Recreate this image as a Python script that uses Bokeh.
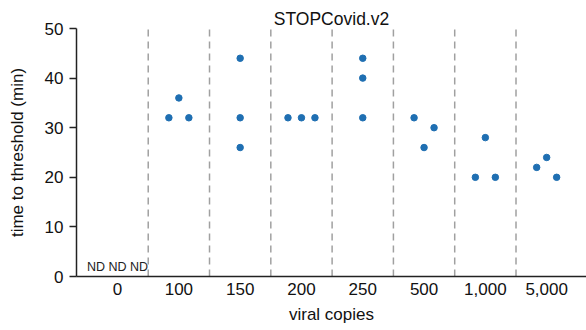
from bokeh.plotting import figure
from bokeh.models import Range1d, FixedTicker
from bokeh.core.properties import value
from bokeh.embed import file_html
from bokeh.resources import INLINE

# ---- data ----
categories = ["0", "100", "150", "200", "250", "500", "1,000", "5,000"]
values = {
    "0": [None, None, None],          # not detected
    "100": [32, 36, 32],
    "150": [44, 32, 26],
    "200": [32, 32, 32],
    "250": [44, 40, 32],
    "500": [32, 26, 30],
    "1,000": [20, 28, 20],
    "5,000": [22, 24, 20],
}
nd_label = "ND"
title_text = "STOPCovid.v2"
x_label = "viral copies"
y_label = "time to threshold (min)"
y_ticks = [0, 10, 20, 30, 40, 50]

FONT = "Liberation Sans"

p = figure(width=586, height=330, output_backend="svg", toolbar_location=None,
           x_range=Range1d(-0.67, 7.65), y_range=Range1d(0, 50),
           min_border_left=76, min_border_right=0, min_border_top=28, min_border_bottom=54)
p.grid.visible = False
p.outline_line_color = None

p.title.text = title_text
p.title.align = "center"
p.title.text_font = FONT
p.title.text_font_size = "17.5px"
p.title.text_font_style = "normal"
p.title.text_color = "#111111"
p.title.standoff = 0
p.title.text_line_height = 1.0

# separators between categories
sep_x = [i + 0.5 for i in range(len(categories) - 1)]
p.segment(x0=sep_x, y0=[0] * len(sep_x), x1=sep_x, y1=[50] * len(sep_x),
          line_color="#a0a0a0", line_width=1.5, line_dash="7 5")

# points (spread replicates horizontally when they would overlap)
xs, ys, nd_x = [], [], []
for i, c in enumerate(categories):
    vals = values[c]
    n = len(vals)
    if all(v is None for v in vals):
        for k in range(n):
            nd_x.append(i + (k - (n - 1) / 2) * 0.35)
        continue
    diffs = [abs(vals[a] - vals[b]) for a in range(n) for b in range(a + 1, n)]
    if max(diffs) == 0:
        spread = 0.22
    elif min(diffs) <= 2:
        spread = 0.163
    else:
        spread = 0.0
    for k, v in enumerate(vals):
        xs.append(i + (k - (n - 1) / 2) * spread)
        ys.append(v)

p.scatter(x=xs, y=ys, size=6.5, fill_color="#1f6fb2", line_color="#1f6fb2")

p.text(x=nd_x, y=[1.9] * len(nd_x), text=[nd_label] * len(nd_x),
       text_font=value(FONT), text_font_size="12.5px", text_align="center",
       text_baseline="alphabetic", text_color="#222222")

# axes
xa = p.xaxis[0]
xa.ticker = FixedTicker(ticks=list(range(len(categories))))
xa.major_label_overrides = {i: c for i, c in enumerate(categories)}
xa.major_tick_out = 0
xa.major_tick_in = 0
xa.minor_tick_out = 0
xa.minor_tick_in = 0
xa.axis_line_width = 1.5
xa.axis_line_color = "#222222"
xa.major_label_text_font = FONT
xa.major_label_text_font_size = "17px"
xa.major_label_text_color = "#111111"
xa.major_label_standoff = 6
xa.axis_label = x_label
xa.axis_label_text_font = FONT
xa.axis_label_text_font_size = "17px"
xa.axis_label_text_font_style = "normal"
xa.axis_label_text_color = "#111111"
xa.axis_label_standoff = 7

ya = p.yaxis[0]
ya.ticker = FixedTicker(ticks=y_ticks)
ya.major_tick_out = 7
ya.major_tick_in = 0
ya.minor_tick_out = 0
ya.minor_tick_in = 0
ya.major_tick_line_width = 1.5
ya.major_tick_line_color = "#222222"
ya.axis_line_width = 1.5
ya.axis_line_color = "#222222"
ya.major_label_text_font = FONT
ya.major_label_text_font_size = "17px"
ya.major_label_text_color = "#111111"
ya.major_label_standoff = 6
ya.axis_label = y_label
ya.axis_label_text_font = FONT
ya.axis_label_text_font_size = "17px"
ya.axis_label_text_font_style = "normal"
ya.axis_label_text_color = "#111111"
ya.axis_label_standoff = 15

open("out.html", "w").write(file_html(p, INLINE))
